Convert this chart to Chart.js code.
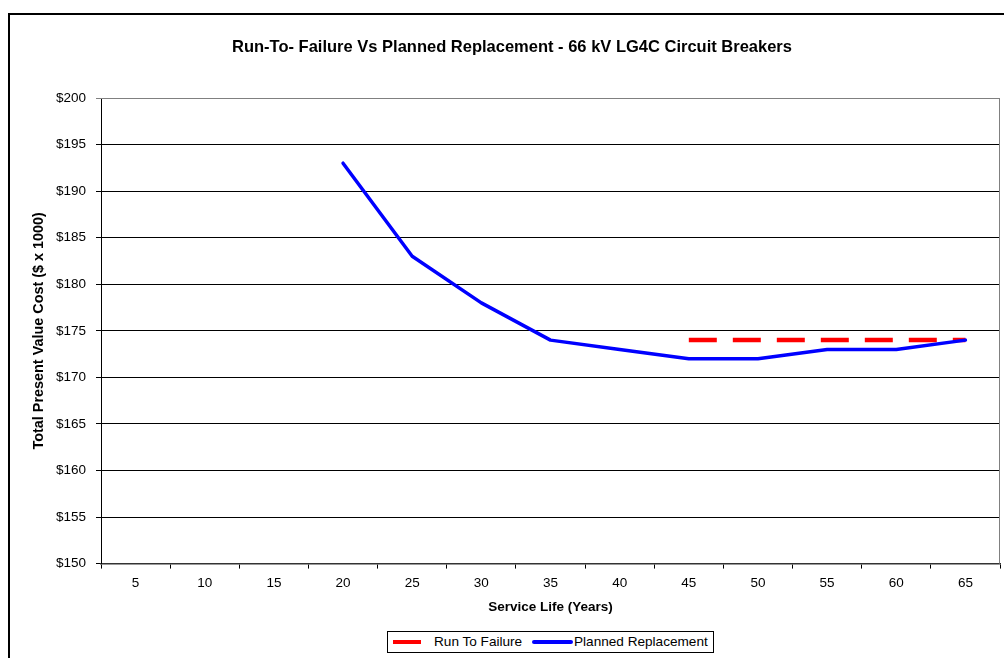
<!DOCTYPE html>
<html>
<head>
<meta charset="utf-8">
<script src="https://cdn.jsdelivr.net/npm/chart.js@4/dist/chart.umd.min.js"></script>
<style>
  html, body { margin: 0; padding: 0; background: #fff; overflow: hidden; }
  #wrap { position: relative; width: 1004px; height: 658px; }
  #frame { position: absolute; left: 8px; top: 13px; width: 1100px; height: 700px; border: 2px solid #000; box-sizing: border-box; }
  canvas { position: absolute; left: 0; top: 0; }
  #legend { position: absolute; left: 387px; top: 631px; width: 327px; height: 22px; border: 1px solid #000; box-sizing: border-box;
    font: 13.6px Arial, "Liberation Sans", sans-serif; color: #000; background: #fff; }
  #legend .sw { position: absolute; top: 8px; height: 4px; }
  #legend .lb { position: absolute; top: 2px; white-space: nowrap; }
</style>
</head>
<body>
<div id="wrap">
  <div id="frame"></div>
  <canvas id="chart" width="1004" height="658"></canvas>
  <div id="legend">
    <span class="sw" style="left:5px;width:28px;background:#ff0000"></span>
    <span class="lb" style="left:46px">Run To Failure</span>
    <span class="sw" style="left:144px;width:41px;background:#0000ff;border-radius:2px"></span>
    <span class="lb" style="left:186px">Planned Replacement</span>
  </div>
</div>
<script>
// ─── data ───
var serviceYears = ['5', '10', '15', '20', '25', '30', '35', '40', '45', '50', '55', '60', '65'];
var runToFailure = [null, null, null, null, null, null, null, null, 174, 174, 174, 174, 174];
var plannedReplacement = [null, null, null, 193, 183, 178, 174, 173, 172, 172, 173, 173, 174];
var yMin = 150, yMax = 200, yStep = 5;

var FONT = 'Arial, "Liberation Sans", sans-serif';
Chart.defaults.color = '#000';
Chart.defaults.font.family = FONT;
Chart.defaults.font.size = 13.5;

// gray border on top / right of plot area like Excel
var plotBorder = {
  id: 'plotBorder',
  afterDraw: function(chart) {
    var a = chart.chartArea, ctx = chart.ctx;
    ctx.save();
    ctx.strokeStyle = '#808080';
    ctx.lineWidth = 1;
    ctx.beginPath();
    ctx.moveTo(a.left, a.top + 0.5);
    ctx.lineTo(a.right - 0.5, a.top + 0.5);
    ctx.lineTo(a.right - 0.5, a.bottom);
    ctx.stroke();
    ctx.restore();
  }
};

new Chart(document.getElementById('chart'), {
  type: 'line',
  data: {
    labels: serviceYears,
    datasets: [
      { label: 'Run To Failure', data: runToFailure, borderColor: '#ff0000', borderWidth: 4.5, borderDash: [28, 16],
        pointRadius: 0, tension: 0, spanGaps: false, order: 1 },
      { label: 'Planned Replacement', data: plannedReplacement, borderColor: '#0000ff', borderWidth: 3.5,
        pointRadius: 0, tension: 0, borderCapStyle: 'round', borderJoinStyle: 'round', order: 0 }
    ]
  },
  options: {
    responsive: false,
    animation: false,
    layout: { padding: { left: 24, right: 4, top: 0, bottom: 43 } },
    plugins: {
      legend: { display: false },
      tooltip: { enabled: false },
      title: {
        display: true,
        text: 'Run-To- Failure Vs Planned Replacement - 66 kV LG4C Circuit Breakers',
        font: { size: 16.5, weight: 'bold' },
        color: '#000',
        padding: { top: 38, bottom: 40.2 }
      }
    },
    scales: {
      x: {
        offset: true,
        grid: { offset: true, drawOnChartArea: false, drawTicks: true, tickLength: 5, color: '#000' },
        border: { color: '#333', width: 1.5 },
        ticks: { padding: 7, maxRotation: 0, autoSkip: false },
        title: { display: true, text: 'Service Life (Years)', font: { size: 13.5, weight: 'bold' }, padding: { top: 0, bottom: 0 } }
      },
      y: {
        min: yMin, max: yMax,
        afterFit: function(s) { s.width = 77; },
        grid: {
          color: function(c) { return c.tick && c.tick.value === yMax ? '#808080' : '#000'; },
          tickLength: 5
        },
        border: { color: '#000', width: 1 },
        ticks: { stepSize: yStep, padding: 10, callback: function(v) { return '$' + v; } },
        title: { display: true, text: 'Total Present Value Cost ($ x 1000)', font: { size: 14.4, weight: 'bold' }, padding: { top: 6.4, bottom: 0 } }
      }
    }
  },
  plugins: [plotBorder]
});
</script>
</body>
</html>
